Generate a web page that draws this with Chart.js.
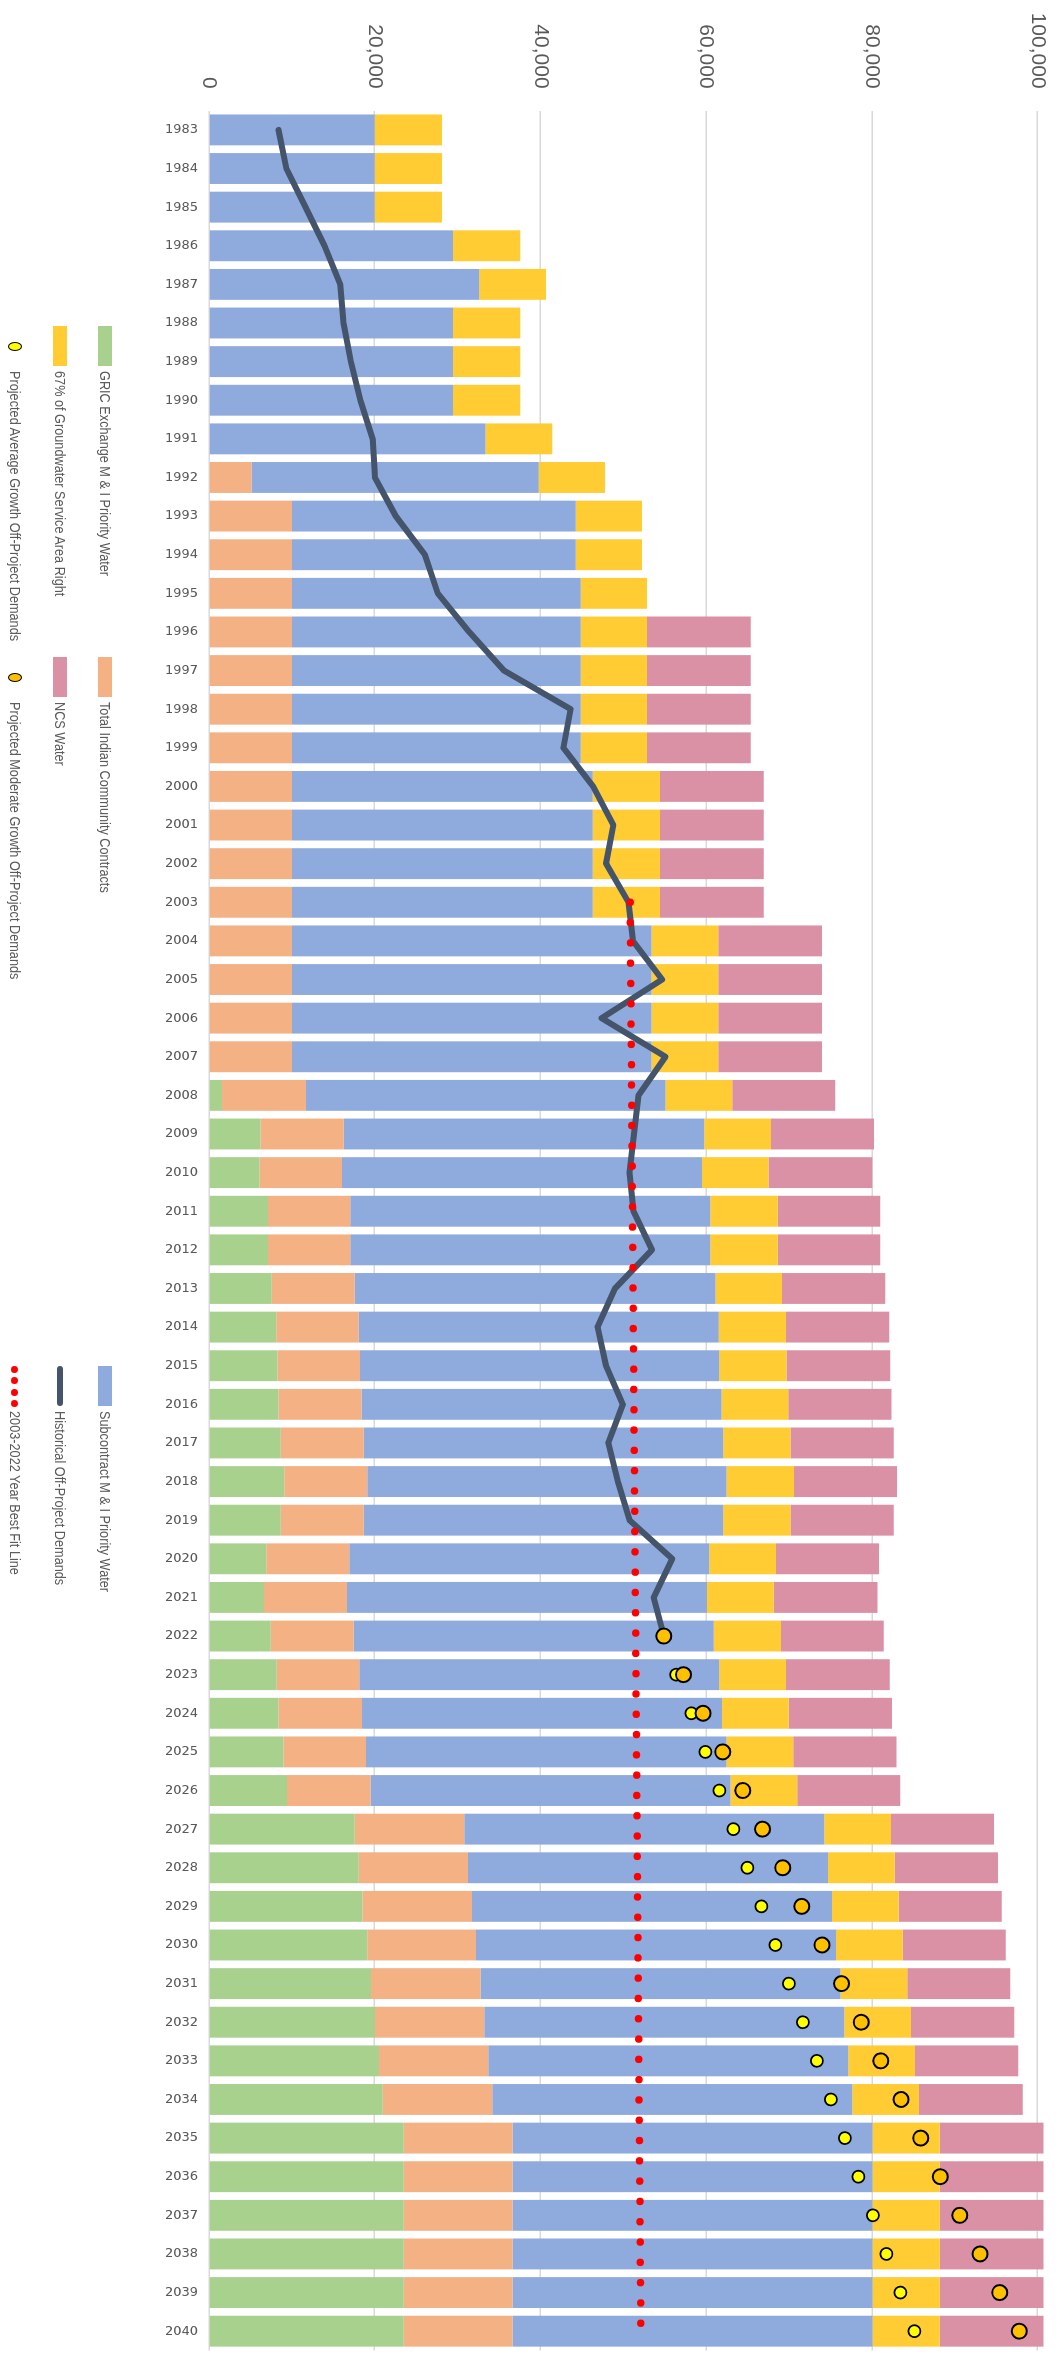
<!DOCTYPE html>
<html>
<head>
<meta charset="utf-8">
<script src="https://cdn.jsdelivr.net/npm/chart.js@4.4.1/dist/chart.umd.min.js"></script>
<style>
  html, body { margin: 0; padding: 0; background: #fff; }
  body { width: 1060px; height: 2356px; overflow: hidden; position: relative; }
  /* the chart is drawn as a column chart and turned a quarter turn clockwise */
  #wrap { position: absolute; left: 0; top: 0; width: 2360px; height: 1060px;
          transform-origin: 0 0; transform: translate(1060px, 0) rotate(90deg); }
  #chart { position: absolute; left: 0; top: 0; }
  .sw { position: absolute; }
  .tx { position: absolute; height: 20px; line-height: 20px; white-space: nowrap;
        font-family: "Liberation Sans", Arial, sans-serif; font-size: 15.5px; color: #595959;
        transform: scaleX(0.82); transform-origin: 0 50%; }
</style>
</head>
<body>
<div id="wrap">
  <canvas id="chart" width="2360" height="1060"></canvas>
</div>
<script>
// categories
var years = [];
for (var y = 1983; y <= 2040; y++) years.push(String(y));

// stacked bars, one value per year 1983-2040
var gric = [0,0,0,0,0,0,0,0,0,0, 0,0,0,0,0,0,0,0,0,0,
  0,0,0,0,0,1560,6230,6090,7110,7110, 7580,8120,8260,8390,8660,9070,8660,6900,6630,7450,
  8190,8390,9000,9410,17600,18070,18540,19090,19560,20030, 20510,20980,23490,23490,23490,23490,23490,23490];
var indian = [0,0,0,0,0,0,0,0,0,5140, 10020,10020,10020,10020,10020,10020,10020,10020,10020,10020,
  10020,10020,10020,10020,10020,10150,10020,9950,9950,9950, 10020,9950,9950,10020,10020,10020,10020,10020,10020,10020,
  9950,10080,9950,10080,13200,13200,13200,13130,13200,13200, 13200,13200,13130,13130,13130,13130,13130,13130];
var subcontract = [20000,20000,20000,29440,32620,29440,29440,29440,33370,34650,
  34250,34250,34860,34860,34860,34860,34860,36280,36280,36280,
  36280,43380,43380,43380,43380,43380,43520,43450,43450,43450,
  43520,43450,43380,43450,43380,43380,43380,43450,43450,43450,
  43450,43450,43520,43450,43450,43450,43450,43450,43450,43450,
  43450,43450,43450,43450,43450,43450,43450,43450];
var gwRight = [8120,8120,8120,8120,8050,8120,8120,8120,8050,7990,
  7990,7990,7990,7990,7990,7990,7990,8120,8120,8120,
  8120,8050,8050,8050,8050,8050,8050,8050,8120,8120,
  8050,8120,8120,8050,8120,8120,8120,8050,8050,8120,
  8050,8050,8050,8050,8050,8050,8050,8050,8050,8050,
  8050,8050,8120,8120,8120,8120,8120,8120];
var ncs = [0,0,0,0,0,0,0,0,0,0, 0,0,0,12520,12520,12520,12520,12520,12520,12520,
  12520,12520,12520,12520,12520,12450,12450,12520,12390,12390, 12450,12450,12520,12450,12450,12450,12450,12450,12520,12390,
  12520,12450,12450,12450,12450,12450,12440,12450,12450,12450, 12450,12520,12520,12520,12520,12520,12520,12520];

// lines
var historical = [8390,9340,11640,13940,15840,16240,17120,18270,19760,20030,
  22540,26060,27610,31400,35610,43650,42770,46360,48800,47920,
  50630,51170,54690,47380,55090,51840,51300,50760,51230,53470,
  49000,46900,47920,49950,48190,49340,50760,55900,53670,54890]; // 1983-2022
var projAverage = [54890,56380,58210,59900,61590,63280,64970,66670,68360,69980,
  71670,73370,75060,76750,78370,80130,81760,83450,85140]; // 2022-2040
var projModerate = [54890,57260,59630,62000,64430,66800,69240,71540,73970,76340,
  78710,81080,83520,85890,88260,90620,93060,95430,97800]; // 2022-2040
var bestFitStart = 50830; // 2003
var bestFitEnd = 52120;   // 2040

// value axis ticks
var tickValues = [0, 20000, 40000, 60000, 80000, 100000];

var labels = ['GRIC Exchange M & I Priority Water', 'Total Indian Community Contracts',
  'Subcontract M & I Priority Water', '67% of Groundwater Service Area Right', 'NCS Water',
  'Historical Off-Project Demands', 'Projected Average Growth Off-Project Demands',
  'Projected Moderate Growth Off-Project Demands', '2003-2022 Year Best Fit Line'];

function fromYear(start, arr) {
  var out = years.map(function () { return null; });
  arr.forEach(function (v, i) { out[years.indexOf(String(start)) + i] = v; });
  return out;
}

var bestFit = years.map(function () { return null; });
bestFit[years.indexOf('2003')] = bestFitStart;
bestFit[years.indexOf('2040')] = bestFitEnd;

function bar(label, data, color) {
  return { type: 'bar', label: label, data: data, backgroundColor: color, stack: 'water',
    order: 10, borderWidth: 0, barPercentage: 0.8, categoryPercentage: 1 };
}

var ctx = document.getElementById('chart').getContext('2d');
var chart = new Chart(ctx, {
  data: {
    labels: years,
    datasets: [
      bar(labels[0], gric, '#A9D18E'),
      bar(labels[1], indian, '#F4B183'),
      bar(labels[2], subcontract, '#8FAADC'),
      bar(labels[3], gwRight, '#FFCC33'),
      bar(labels[4], ncs, '#DA91A6'),
      { type: 'line', label: labels[5], data: fromYear(1983, historical), stack: 'hist', order: 4,
        borderColor: '#44546A', borderWidth: 6, pointRadius: 0, tension: 0,
        borderCapStyle: 'round', borderJoinStyle: 'round' },
      { type: 'line', label: labels[8], data: bestFit, stack: 'fit', order: 3, spanGaps: true,
        borderColor: '#FF0000', borderWidth: 7.5, borderDash: [0, 20.3], borderCapStyle: 'round',
        pointRadius: 0 },
      { type: 'line', label: labels[6], data: fromYear(2022, projAverage), stack: 'avg', order: 2,
        showLine: false, pointRadius: 6, pointBackgroundColor: '#FFFF00',
        pointBorderColor: '#000', pointBorderWidth: 1.8 },
      { type: 'line', label: labels[7], data: fromYear(2022, projModerate), stack: 'mod', order: 1,
        showLine: false, pointRadius: 7.5, pointBackgroundColor: '#FFC000',
        pointBorderColor: '#000', pointBorderWidth: 2 }
    ]
  },
  options: {
    responsive: false,
    animation: false,
    devicePixelRatio: 1,
    layout: { padding: { top: 10, right: 0, bottom: 0, left: 0 } },
    plugins: { legend: { display: false }, tooltip: { enabled: false } },
    scales: {
      x: {
        stacked: true, offset: true,
        grid: { display: false, drawTicks: false }, border: { display: false },
        ticks: { minRotation: 90, maxRotation: 90, autoSkip: false, padding: 11,
          color: '#595959', font: { family: 'DejaVu Sans', size: 13 } },
        afterFit: function (s) {
          s.height = 209;
          s.paddingLeft = 0; s.paddingRight = 0;
        }
      },
      y: {
        stacked: true, min: 0, max: 101500,
        grid: { color: '#D9D9D9', lineWidth: 1.5, drawTicks: false }, border: { display: false },
        ticks: { padding: 22, color: '#595959', font: { family: 'Liberation Sans', size: 21 },
          callback: function (v) { return v.toLocaleString('en-US'); } },
        afterBuildTicks: function (s) {
          s.ticks = tickValues.map(function (v) { return { value: v }; });
        },
        afterFit: function (s) {
          s.width = 110.6;
          s.paddingTop = 0; s.paddingBottom = 0;
        }
      }
    }
  }
});

// legend, laid out in the unrotated frame: three rows below the plot
var wrap = document.getElementById('wrap');
var colX = [326, 657, 1366];
var rowY = [955, 1000, 1045];
var legendItems = [
  { kind: 'box', color: '#A9D18E' }, { kind: 'box', color: '#F4B183' }, { kind: 'box', color: '#8FAADC' },
  { kind: 'box', color: '#FFCC33' }, { kind: 'box', color: '#DA91A6' }, { kind: 'line', color: '#44546A' },
  { kind: 'dot', color: '#FFFF00' }, { kind: 'dot', color: '#FFC000' }, { kind: 'dash', color: '#FF0000' }
];
var legendText = [labels[0], labels[1], labels[2], labels[3], labels[4], labels[5], labels[6], labels[7], labels[8]];

legendItems.forEach(function (item, i) {
  var x = colX[i % 3], yc = rowY[Math.floor(i / 3)];
  if (item.kind === 'box') {
    addSw(x, yc - 7, 40, 14, item.color, '0');
  } else if (item.kind === 'line') {
    addSw(x, yc - 3, 40, 6, item.color, '3px');
  } else if (item.kind === 'dot') {
    var d = addSw(x + 16, yc - 7, 9, 14, item.color, '50%');
    d.style.border = '1.5px solid #000';
    d.style.boxSizing = 'border-box';
  } else {
    for (var k = 0; k < 4; k++) addSw(x + k * 11.3, yc - 3.5, 7, 7, item.color, '50%');
  }
  var t = document.createElement('div');
  t.className = 'tx';
  t.style.left = (x + 45) + 'px';
  t.style.top = (yc - 10) + 'px';
  t.textContent = legendText[i];
  wrap.appendChild(t);
});

function addSw(x, y, w, h, color, radius) {
  var d = document.createElement('div');
  d.className = 'sw';
  d.style.left = x + 'px';
  d.style.top = y + 'px';
  d.style.width = w + 'px';
  d.style.height = h + 'px';
  d.style.background = color;
  d.style.borderRadius = radius;
  wrap.appendChild(d);
  return d;
}
</script>
</body>
</html>
